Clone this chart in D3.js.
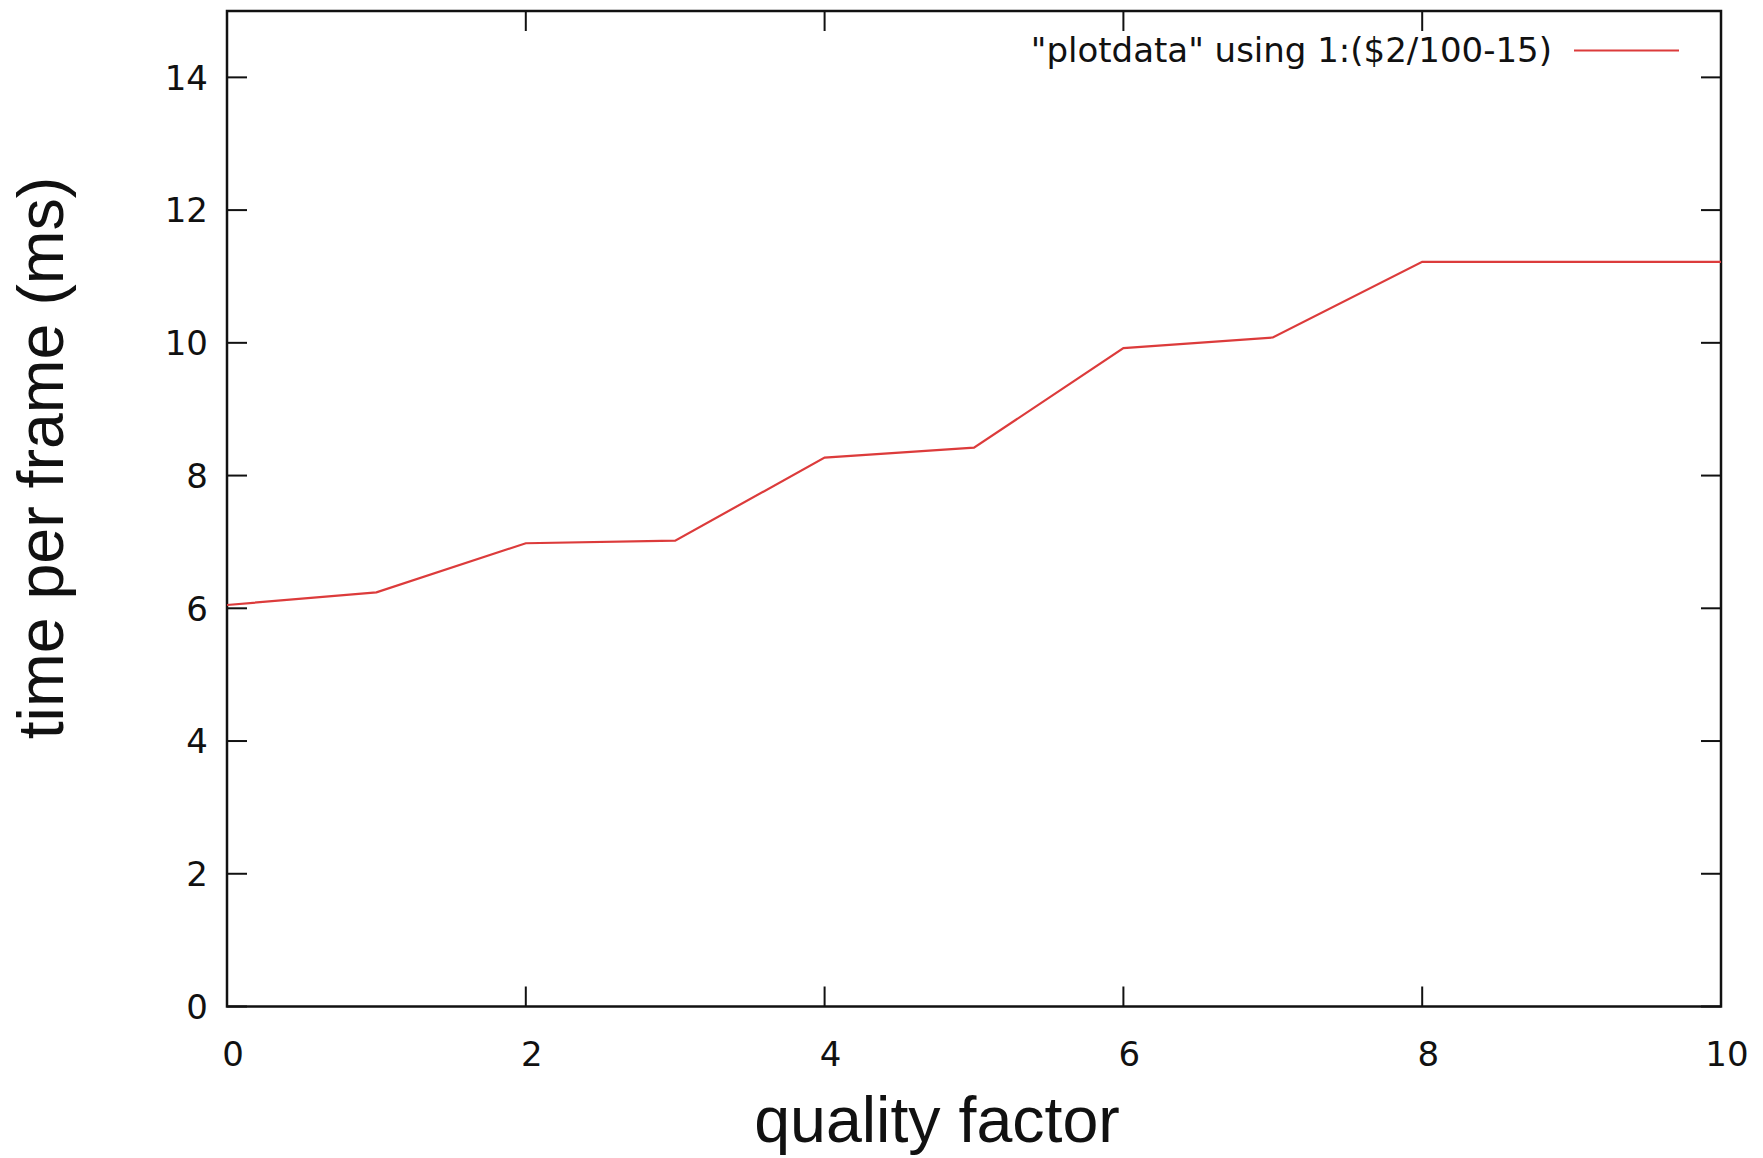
<!DOCTYPE html>
<html>
<head>
<meta charset="utf-8">
<script src="https://cdn.jsdelivr.net/npm/d3@7"></script>
<style>
  body { margin: 0; background: #fff; }
  svg { display: block; }
</style>
</head>
<body>
<svg id="chart" width="1763" height="1158"></svg>
<script>
// data
const quality = [0, 1, 2, 3, 4, 5, 6, 7, 8, 9, 10];
const timeMs = [6.05, 6.24, 6.98, 7.02, 8.27, 8.42, 9.92, 10.08, 11.22, 11.22, 11.22];
const xTicks = [0, 2, 4, 6, 8, 10];
const yTicks = [0, 2, 4, 6, 8, 10, 12, 14];
const legendLabel = '"plotdata" using 1:($2/100-15)';

const svg = d3.select("#chart");

// plot box (window.top is taken, so prefixed names)
const plotL = 227, plotR = 1721, plotT = 11, plotB = 1006.5;
const x = d3.scaleLinear().domain([0, 10]).range([plotL, plotR]);
const y = d3.scaleLinear().domain([0, 15]).range([plotB, plotT]);

const tickFont = "'DejaVu Sans', sans-serif";
const titleFont = "'Liberation Sans', Arial, sans-serif";
const tickLen = 20;
const red = "#dc3b3b";

// ticks on all four sides (gnuplot mirror)
const ticks = svg.append("g").attr("stroke", "#111").attr("stroke-width", 2);
xTicks.forEach(t => {
  ticks.append("line").attr("x1", x(t)).attr("x2", x(t)).attr("y1", plotB).attr("y2", plotB - tickLen);
  ticks.append("line").attr("x1", x(t)).attr("x2", x(t)).attr("y1", plotT).attr("y2", plotT + tickLen);
});
yTicks.forEach(t => {
  ticks.append("line").attr("x1", plotL).attr("x2", plotL + tickLen).attr("y1", y(t)).attr("y2", y(t));
  ticks.append("line").attr("x1", plotR).attr("x2", plotR - tickLen).attr("y1", y(t)).attr("y2", y(t));
});

// border
svg.append("rect")
  .attr("x", plotL).attr("y", plotT)
  .attr("width", plotR - plotL).attr("height", plotB - plotT)
  .attr("fill", "none").attr("stroke", "#111").attr("stroke-width", 2.5);

// tick labels
svg.append("g").selectAll("text").data(yTicks).join("text")
  .attr("x", 208).attr("y", d => y(d))
  .attr("dy", "0.36em")
  .attr("text-anchor", "end")
  .attr("font-family", tickFont).attr("font-size", 34).attr("fill", "#111")
  .text(d => d);

svg.append("g").selectAll("text").data(xTicks).join("text")
  .attr("x", d => x(d) + 6).attr("y", 1066)
  .attr("text-anchor", "middle")
  .attr("font-family", tickFont).attr("font-size", 34).attr("fill", "#111")
  .text(d => d);

// axis titles
svg.append("text")
  .attr("x", 937).attr("y", 1142)
  .attr("text-anchor", "middle")
  .attr("font-family", titleFont)
  .attr("font-size", 64.5).attr("fill", "#111")
  .text("quality factor");

svg.append("text")
  .attr("transform", "translate(63,458) rotate(-90)")
  .attr("text-anchor", "middle")
  .attr("font-family", titleFont)
  .attr("font-size", 64.5).attr("fill", "#111")
  .text("time per frame (ms)");

// data line
const line = d3.line().x((d, i) => x(quality[i])).y(d => y(d));
svg.append("path")
  .datum(timeMs)
  .attr("d", line)
  .attr("fill", "none")
  .attr("stroke", red)
  .attr("stroke-width", 2.2);

// legend
svg.append("text")
  .attr("x", 1552).attr("y", 50).attr("dy", "0.36em")
  .attr("text-anchor", "end")
  .attr("font-family", tickFont).attr("font-size", 34).attr("fill", "#111")
  .text(legendLabel);
svg.append("line")
  .attr("x1", 1574).attr("x2", 1679).attr("y1", 50.5).attr("y2", 50.5)
  .attr("stroke", red).attr("stroke-width", 2.2);
</script>
</body>
</html>
